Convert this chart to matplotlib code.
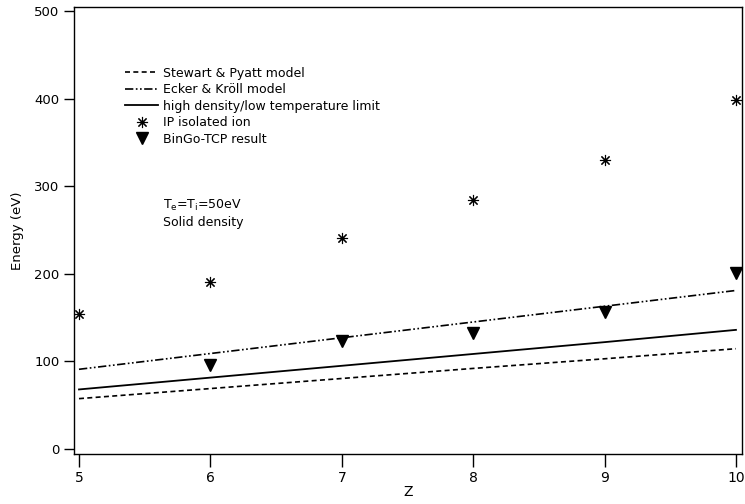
import numpy as np
import matplotlib.pyplot as plt

# atomic number Z
Z = [5, 6, 7, 8, 9, 10]

# model curves (eV)
stewart_pyatt = [57.5, 69, 80.5, 92, 103, 114.5]
ecker_kroll = [91, 109, 127, 145, 163, 181]
high_density = [68, 81.5, 95, 108.5, 122, 136]

# isolated ion ionization potential and simulation
ip_isolated = [153.8, 190.6, 240.9, 284, 330, 398]
bingo_tcp = [95.9, 123, 132, 156.7, 201]
bingo_z = [6, 7, 8, 9, 10]

plt.rcParams['font.family'] = ['DejaVu Sans']

fig = plt.figure(figsize=(7.45, 5.04), dpi=100)
ax = fig.add_axes([74/745, 50/504, (742-74)/745, (454-7)/504])

ax.plot(Z, stewart_pyatt, color='black', lw=1.2, linestyle=(0, (3, 2)),
        label='Stewart & Pyatt model')
ax.plot(Z, ecker_kroll, color='black', lw=1.2,
        linestyle=(0, (5, 1.5, 1, 1.5, 1, 1.5)), label='Ecker & Kröll model')
ax.plot(Z, high_density, color='black', lw=1.3,
        label='high density/low temperature limit')
ax.plot(Z, ip_isolated, linestyle='none', marker=(8, 2, 0), markersize=8,
        markeredgewidth=0.8, color='black', label='IP isolated ion')
ax.plot(bingo_z, bingo_tcp, linestyle='none', marker='v', markersize=8,
        color='black', label='BinGo-TCP result')

ax.set_xlim(4.962, 10.046)
ax.set_ylim(-5.7, 504.6)
ax.set_xticks(Z)
ax.set_yticks([0, 100, 200, 300, 400, 500])

narrow = ['Liberation Sans Narrow', 'DejaVu Sans']
ax.tick_params(axis='x', direction='out', length=9, width=1, labelsize=10,
               pad=3)
for lab in ax.get_xticklabels():
    lab.set_family(narrow)
ax.tick_params(axis='y', direction='out', length=7, width=1, labelsize=9.5)
for s in ax.spines.values():
    s.set_linewidth(1.0)

ax.set_xlabel('Z', family=narrow, fontsize=10, labelpad=0)
ax.set_ylabel('Energy (eV)', fontsize=9.5, labelpad=7)

ax.legend(loc='upper left', bbox_to_anchor=(0.0695, 0.878), frameon=False,
          fontsize=9, handlelength=2.6, handletextpad=0.4, labelspacing=0.28,
          borderaxespad=0)

ax.text(0.133, 0.573, 'T$_\\mathregular{e}$=T$_\\mathregular{i}$=50eV\nSolid density',
        transform=ax.transAxes, fontsize=9, va='top', linespacing=1.35)

fig.savefig('out.png', dpi=100)
